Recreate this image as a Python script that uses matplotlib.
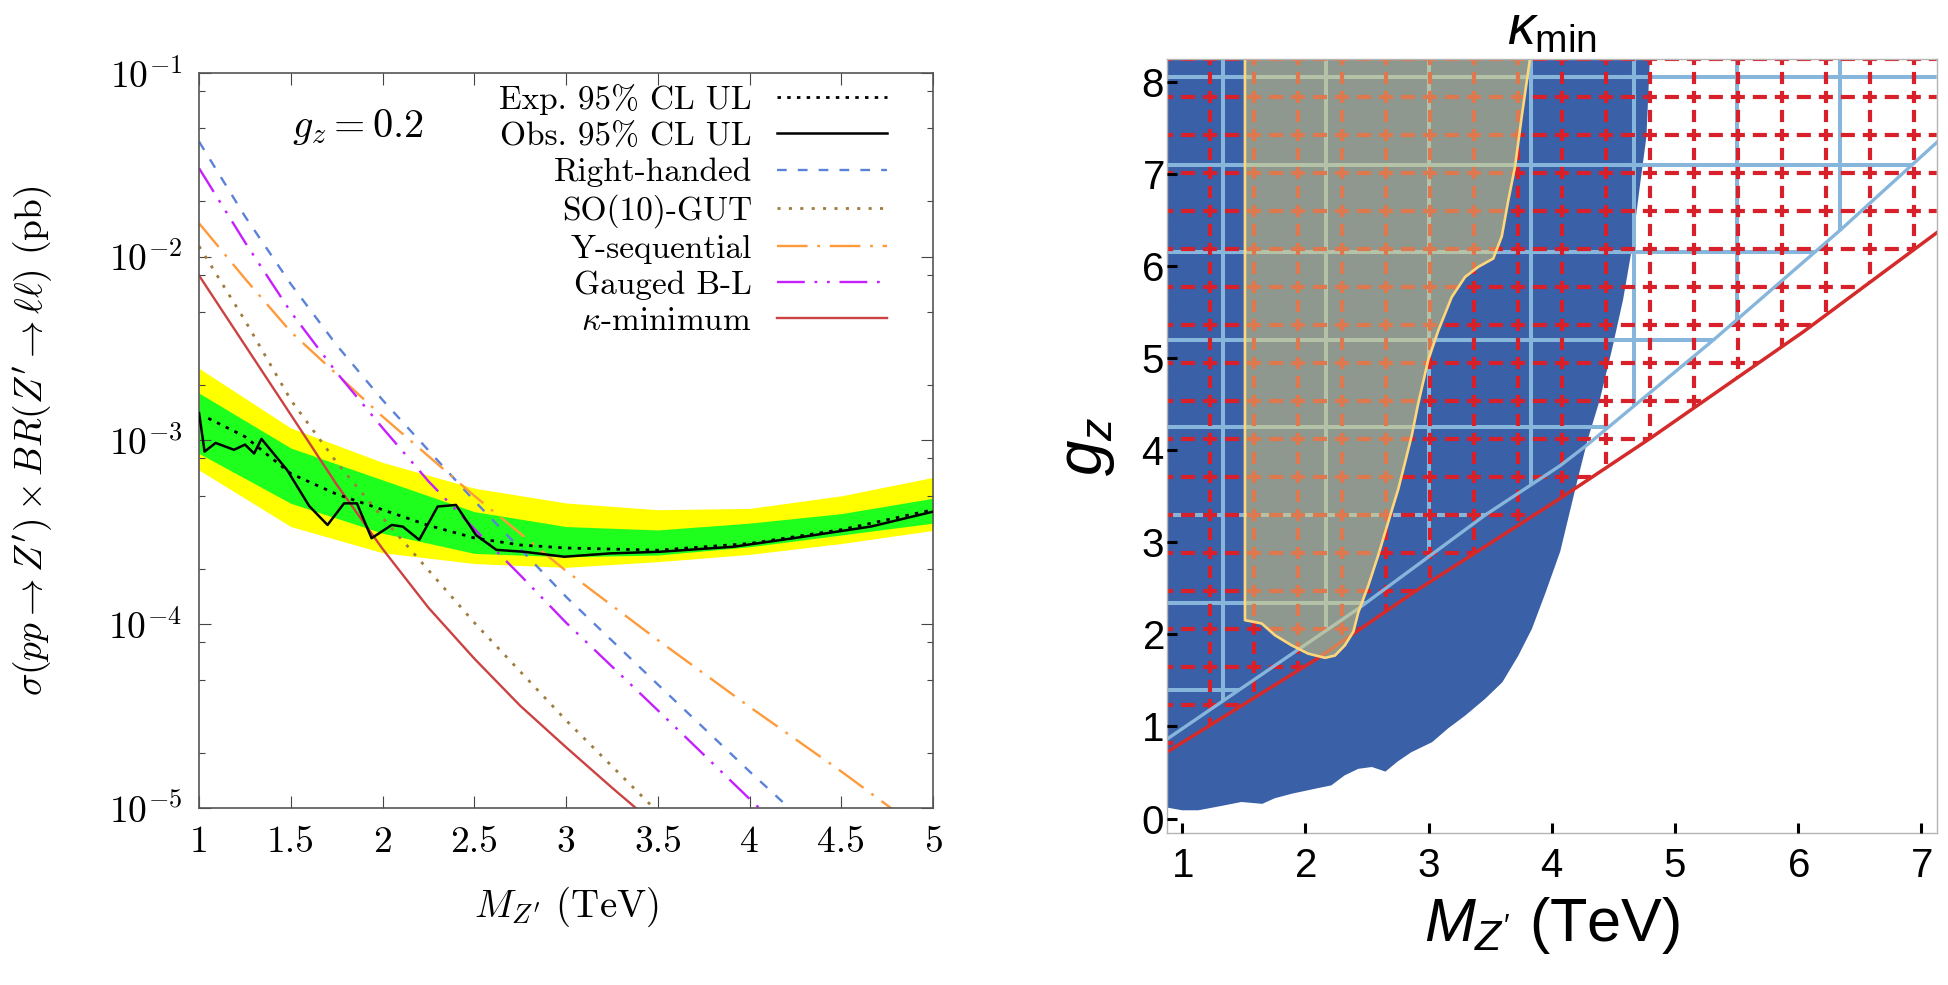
import numpy as np
import matplotlib
matplotlib.use("Agg")
import matplotlib.pyplot as plt
from matplotlib.patches import Polygon
from matplotlib.ticker import LogLocator, NullLocator, NullFormatter

plt.rcParams["font.family"] = "cmr10"
plt.rcParams["mathtext.fontset"] = "cm"
plt.rcParams["axes.formatter.use_mathtext"] = True
plt.rcParams["lines.scale_dashes"] = False
plt.rcParams["mathtext.rm"] = "Liberation Sans"
plt.rcParams["mathtext.it"] = "Liberation Sans:italic"
plt.rcParams["mathtext.bf"] = "Liberation Sans:bold"
plt.rcParams["mathtext.sf"] = "Liberation Sans"

# ---------------- left panel data (pb vs TeV) ----------------
mass_band = [1.0, 1.5, 2.0, 2.5, 3.0, 3.5, 4.0, 4.5, 5.0]
yellow_hi = [2.47e-3, 1.17e-3, 7.6e-4, 5.5e-4, 4.57e-4, 4.2e-4, 4.27e-4, 5.0e-4, 6.3e-4]
yellow_lo = [6.9e-4, 3.4e-4, 2.45e-4, 2.14e-4, 2.04e-4, 2.19e-4, 2.4e-4, 2.75e-4, 3.24e-4]
green_hi = [1.81e-3, 9.1e-4, 6.1e-4, 4.1e-4, 3.4e-4, 3.26e-4, 3.55e-4, 4.0e-4, 4.85e-4]
green_lo = [8.5e-4, 4.55e-4, 3.13e-4, 2.43e-4, 2.33e-4, 2.38e-4, 2.64e-4, 3.06e-4, 3.55e-4]

mass_exp = [1.05, 1.25, 1.5, 1.75, 2.0, 2.25, 2.5, 2.75, 3.0, 3.5, 4.0, 4.5, 5.0]
exp_limit = [1.32e-3, 1.05e-3, 6.6e-4, 5.1e-4, 4.2e-4, 3.45e-4, 2.95e-4, 2.7e-4,
             2.6e-4, 2.53e-4, 2.75e-4, 3.27e-4, 4.2e-4]

mass_obs = [1.0, 1.03, 1.09, 1.19, 1.25, 1.3, 1.34, 1.48, 1.6, 1.7, 1.79, 1.86, 1.94,
            2.05, 2.11, 2.2, 2.3, 2.4, 2.51, 2.62, 2.77, 2.99, 3.24, 3.51, 3.91, 4.24,
            4.66, 5.0]
obs_limit = [1.41e-3, 8.7e-4, 9.7e-4, 8.9e-4, 9.5e-4, 8.5e-4, 1.02e-3, 6.9e-4, 4.4e-4,
             3.47e-4, 4.55e-4, 4.55e-4, 2.94e-4, 3.47e-4, 3.4e-4, 2.88e-4, 4.37e-4,
             4.46e-4, 3.05e-4, 2.54e-4, 2.48e-4, 2.33e-4, 2.43e-4, 2.48e-4, 2.64e-4,
             2.94e-4, 3.4e-4, 4.1e-4]

mass_rh = [1.0, 1.25, 1.5, 1.75, 2.0, 2.5, 3.0, 3.5, 4.0, 4.25]
sig_rh = [4.23e-2, 1.66e-2, 7.1e-3, 3.3e-3, 1.66e-3, 4.7e-4, 1.41e-4, 4.7e-5, 1.58e-5, 9.3e-6]

mass_so10 = [1.0, 1.25, 1.5, 1.75, 2.0, 2.5, 3.0, 3.5]
sig_so10 = [1.14e-2, 4.5e-3, 1.66e-3, 7.6e-4, 3.8e-4, 1.02e-4, 3.0e-5, 9.5e-6]

mass_yseq = [1.0, 1.25, 1.5, 2.0, 2.5, 3.0, 3.5, 4.0, 4.5, 4.8]
sig_yseq = [1.52e-2, 7.6e-3, 3.9e-3, 1.35e-3, 5.0e-4, 1.95e-4, 8.2e-5, 3.55e-5, 1.58e-5, 9.5e-6]

mass_bl = [1.0, 1.25, 1.5, 1.75, 2.0, 2.25, 2.5, 2.75, 3.0, 3.5, 4.0, 4.1]
sig_bl = [3.03e-2, 1.2e-2, 5.0e-3, 2.34e-3, 1.17e-3, 6.0e-4, 3.3e-4, 1.85e-4, 1.02e-4,
          3.4e-5, 1.12e-5, 9.0e-6]

mass_kmin = [1.0, 1.25, 1.5, 1.75, 2.0, 2.25, 2.5, 2.75, 3.0, 3.25, 3.5]
sig_kmin = [7.9e-3, 3.3e-3, 1.38e-3, 5.75e-4, 2.57e-4, 1.23e-4, 6.5e-5, 3.6e-5, 2.14e-5,
            1.29e-5, 7.9e-6]

x_ticks_left = [1, 1.5, 2, 2.5, 3, 3.5, 4, 4.5, 5]
x_labels_left = ["1", "1.5", "2", "2.5", "3", "3.5", "4", "4.5", "5"]

# ---------------- right panel data (g_z vs TeV) ----------------
# excluded region (dark blue), lower/right boundary
blue_M = [0.873, 1.0, 1.13, 1.29, 1.48, 1.65, 1.75, 1.89, 2.1, 2.21, 2.32, 2.43, 2.54,
          2.65, 2.75, 2.86, 3.03, 3.16, 3.3, 3.46, 3.6, 3.73, 3.84, 3.95, 4.07, 4.2,
          4.29, 4.39, 4.49, 4.58, 4.65, 4.72, 4.77, 4.8]
blue_g = [0.12, 0.09, 0.09, 0.13, 0.18, 0.16, 0.22, 0.27, 0.33, 0.36, 0.47, 0.54, 0.56,
          0.51, 0.62, 0.72, 0.83, 0.98, 1.12, 1.30, 1.48, 1.77, 2.06, 2.45, 2.90, 3.62,
          4.1, 4.54, 5.09, 5.63, 6.17, 6.9, 7.4, 8.3]

# kappa_min allowed region (yellow outline)
gray_M = [1.509, 1.509, 1.645, 1.753, 1.889, 2.024, 2.16, 2.24, 2.32, 2.39, 2.43, 2.511,
          2.592, 2.673, 2.755, 2.81, 2.864, 2.917, 2.998, 3.08, 3.188, 3.297, 3.405,
          3.526, 3.595, 3.648, 3.703, 3.757, 3.83]
gray_g = [8.3, 2.154, 2.118, 1.99, 1.88, 1.79, 1.745, 1.77, 1.88, 2.03, 2.24, 2.53, 2.86,
          3.22, 3.58, 3.87, 4.16, 4.51, 4.98, 5.30, 5.66, 5.88, 5.99, 6.08, 6.32, 6.71,
          7.08, 7.62, 8.3]

# bounding lines of the two hatched regions
red_M = [0.873, 2.105, 2.864, 4.068, 4.8, 6.045, 6.519, 7.128]
red_g = [0.72, 1.744, 2.443, 3.475, 4.127, 5.285, 5.756, 6.36]
lb_M = [0.873, 2.43, 3.459, 4.068, 4.286, 5.313, 6.345, 7.128]
lb_g = [0.86, 2.28, 3.294, 3.83, 4.054, 5.194, 6.389, 7.34]

# ---------------- figure ----------------
W_PX, H_PX = 1948, 985
fig = plt.figure(figsize=(W_PX / 100, H_PX / 100), dpi=100)

# ======== left panel ========
axl = fig.add_axes([0.1022, 0.1797, 0.3768, 0.7462])
axl.set_yscale("log")
axl.fill_between(mass_band, yellow_lo, yellow_hi, color="#ffff00", lw=0, zorder=1)
axl.fill_between(mass_band, green_lo, green_hi, color="#1eff1e", lw=0, zorder=1.1)

axl.plot(mass_exp, exp_limit, color="black", lw=2.0, dashes=(2.5, 4.5),
         label="Exp. 95% CL UL", zorder=3)
axl.plot(mass_obs, obs_limit, color="black", lw=1.8, label="Obs. 95% CL UL", zorder=3)
axl.plot(mass_rh, sig_rh, color="#5b82d9", lw=1.7, dashes=(7, 8), label="Right-handed")
axl.plot(mass_so10, sig_so10, color="#a07c3e", lw=2.0, dashes=(2.2, 6), label="SO(10)-GUT")
axl.plot(mass_yseq, sig_yseq, color="#ff9a3a", lw=1.7, dashes=(22, 7, 2, 7),
         label="Y-sequential")
axl.plot(mass_bl, sig_bl, color="#c61fff", lw=1.7, dashes=(20, 7, 2, 7, 2, 7),
         label="Gauged B-L")
axl.plot(mass_kmin, sig_kmin, color="#cc4242", lw=1.7, label=r"$\kappa$-minimum")

axl.set_xlim(1, 5)
axl.set_ylim(1e-5, 1e-1)
axl.set_xticks(x_ticks_left, x_labels_left)
axl.xaxis.set_minor_locator(NullLocator())
axl.yaxis.set_major_locator(LogLocator(base=10, numticks=10))
axl.yaxis.set_minor_locator(LogLocator(base=10, subs=[2, 5, 8], numticks=10))
axl.yaxis.set_minor_formatter(NullFormatter())
axl.tick_params(which="both", direction="in", top=True, right=True, color="#444444",
                width=0.8, labelsize=27)
axl.tick_params(which="major", length=8.5)
axl.tick_params(which="minor", length=4.5)
axl.tick_params(axis="y", pad=12)
axl.tick_params(axis="x", pad=13)
for sp in axl.spines.values():
    sp.set_color("#555555")
    sp.set_linewidth(1.2)

axl.set_xlabel(r"$M_{Z^{\prime}}$ (TeV)", fontsize=28)
axl.xaxis.set_label_coords(0.5, -0.105)
axl.xaxis.label.set_va("top")
axl.set_ylabel(r"$\sigma(pp\rightarrow Z^{\prime})\times BR(Z^{\prime}\rightarrow\ell\ell)$ (pb)",
               fontsize=27)
axl.yaxis.set_label_coords(-0.198, 0.5)

axl.text(0.2166, 0.9265, r"$g_z = 0.2$", transform=axl.transAxes, ha="center",
         va="center", fontsize=29)

axl.legend(loc="upper right", bbox_to_anchor=(0.937, 0.985), frameon=False,
           markerfirst=False, fontsize=24, handlelength=3.3, handletextpad=0.75,
           labelspacing=0.2, borderpad=0, borderaxespad=0)

# ======== right panel ========
rect_r = [0.5989, 0.1540, 0.3953, 0.7858]
axr = fig.add_axes(rect_r)
x0, x1 = 0.873, 7.128
y0, y1 = -0.16, 8.243
axr.set_xlim(x0, x1)
axr.set_ylim(y0, y1)
px_x = rect_r[2] * W_PX / (x1 - x0)
px_y = rect_r[3] * H_PX / (y1 - y0)
PT = 72 / 100  # points per pixel

# dark blue excluded region
blue_verts = list(zip(blue_M, blue_g)) + [(blue_M[-1], 9.0), (x0 - 0.5, 9.0),
                                          (x0 - 0.5, blue_g[0])]
axr.add_patch(Polygon(blue_verts, closed=True, facecolor="#3a60a8", edgecolor="none",
                      zorder=0.5))

# clip regions above the two bounding lines
red_clip = Polygon(list(zip(red_M, red_g)) + [(red_M[-1], 20), (red_M[0], 20)],
                   closed=True, transform=axr.transData, facecolor="none")
lb_clip = Polygon(list(zip(lb_M, lb_g)) + [(lb_M[-1], 20), (lb_M[0], 20)],
                  closed=True, transform=axr.transData, facecolor="none")

# light blue mesh
lb_col = "#86b6dc"
lb_vx = 1.333 + 0.8345 * np.arange(-1, 8)
lb_hy = 1.393 + 0.951 * np.arange(-1, 9)
for xv in lb_vx:
    ln, = axr.plot([xv, xv], [y0 - 1, y1 + 1], color=lb_col, lw=2.9, zorder=0.8,
                   solid_capstyle="butt")
    ln.set_clip_path(lb_clip)
for yh in lb_hy:
    ln, = axr.plot([x0 - 1, x1 + 1], [yh, yh], color=lb_col, lw=2.9, zorder=0.8,
                   solid_capstyle="butt")
    ln.set_clip_path(lb_clip)

# red dashed mesh, dashes centred on the crossings
rd_col = "#d8202a"
rd_dx, rd_dy = 0.3573, 0.4125
rd_vx = 0.868 + rd_dx * np.arange(0, 19)
rd_hy = 0.8175 + rd_dy * np.arange(0, 20)
per_h = rd_dx * px_x / 2          # px along horizontal lines
per_v = rd_dy * px_y / 2          # px along vertical lines
on_h, on_v = 0.64 * per_h, 0.64 * per_v
for yh in rd_hy:
    xs = rd_vx[0] - (on_h / 2) / px_x
    ln, = axr.plot([xs, x1 + 1], [yh, yh], color=rd_col, lw=3.0, zorder=1.0,
                   dashes=(on_h * PT, (per_h - on_h) * PT))
    ln.set_clip_path(red_clip)
for xv in rd_vx:
    ys = rd_hy[0] - (on_v / 2) / px_y
    ln, = axr.plot([xv, xv], [ys, y1 + 1], color=rd_col, lw=3.0, zorder=1.0,
                   dashes=(on_v * PT, (per_v - on_v) * PT))
    ln.set_clip_path(red_clip)

axr.plot(lb_M, lb_g, color=lb_col, lw=2.4, zorder=1.2)
axr.plot(red_M, red_g, color="#d42a2a", lw=2.5, zorder=1.3)

# kappa_min region overlay
axr.add_patch(Polygon(list(zip(gray_M, gray_g)), closed=True, facecolor="#e2d175",
                      alpha=0.5, edgecolor="none", zorder=1.4))
axr.plot(gray_M, gray_g, color="#ffd77a", lw=1.9, zorder=1.45)

axr.set_xticks(range(1, 8))
axr.set_yticks(range(0, 9))
axr.set_axisbelow(False)
axr.tick_params(direction="in", length=7, width=2.2, color="black", labelsize=29,
                labelfontfamily="Liberation Sans", top=False, right=False)
axr.tick_params(axis="x", pad=10)
axr.tick_params(axis="y", pad=2)
for sp in axr.spines.values():
    sp.set_color("#b5b5b5")
    sp.set_linewidth(1.0)

axr.set_xlabel(r"$M_{Z'}$ (TeV)", fontsize=44, family="Liberation Sans",
               math_fontfamily="custom")
axr.xaxis.set_label_coords(0.5, -0.08)
axr.xaxis.label.set_va("top")
axr.set_ylabel(r"$g_z$", fontsize=46, family="Liberation Sans", math_fontfamily="custom")
axr.yaxis.set_label_coords(-0.065, 0.5)
axr.text(0.5, 1.037, r"$\kappa_{\rm min}$", transform=axr.transAxes, ha="center",
         va="center", fontsize=40, family="Liberation Sans", math_fontfamily="custom")

fig.savefig("out.png", dpi=100)
